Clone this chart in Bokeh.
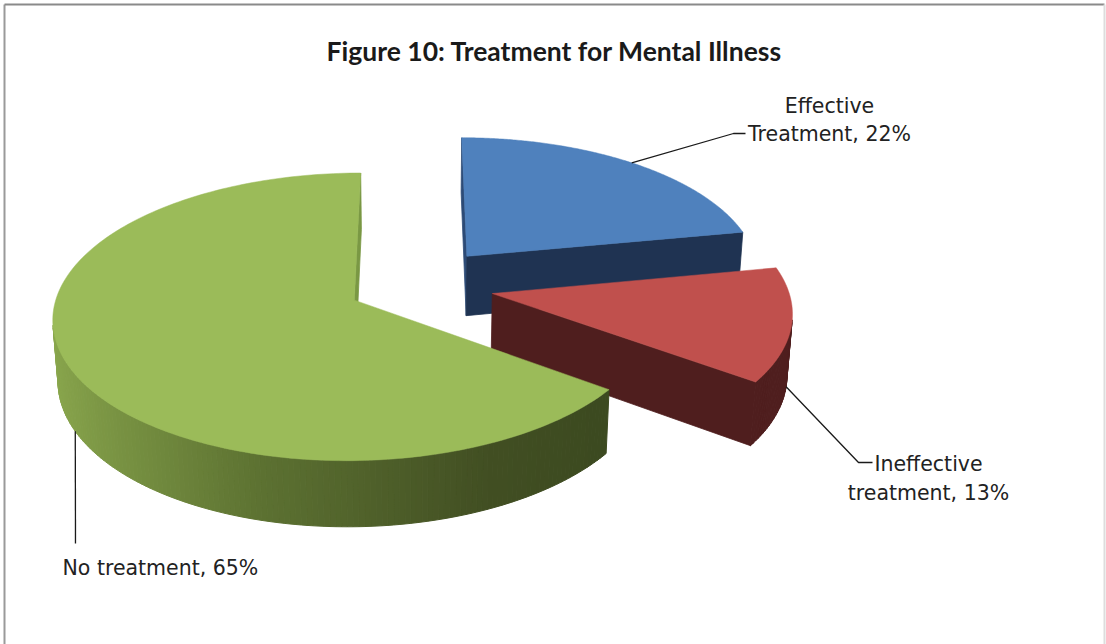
import numpy as np
from bokeh.plotting import figure
from bokeh.models import Range1d
from bokeh.embed import file_html
from bokeh.resources import INLINE
from bokeh.core.properties import value

# ---------------- data ----------------
title = "Figure 10: Treatment for Mental Illness"
categories = ["Effective\nTreatment", "Ineffective\ntreatment", "No treatment"]
values = [22, 13, 65]

# ---------------- styles ----------------
top_colors = ["#4f81bd", "#c0504d", "#9bbb59"]
side_colors = ["#1f3352", "#4f1e1e", "#3e4c21"]
radial_colors = [("#2d4b76", "#1f3352"), ("#4f1e1e", "#4f1e1e"), ("#3e4c21", "#7a9844")]
explode = [0.28, 0.265, 0.23]
# green side gradient (stops in sin(theta))
grad_pos = [-1.0, -0.966, -0.259, 0.423, 0.809, 1.0]
grad_rgb = [(140, 170, 78), (136, 165, 76), (93, 114, 50), (66, 79, 35), (60, 74, 32), (60, 74, 32)]

label_x = [829, 928, 62]
label_y = [[105, 133], [463, 492], [567]]
label_align = ["center", "center", "left"]
leader_pts = [[(733, 133), (745, 133)], [(858, 462), (872, 462)], [(75, 543)]]

# ---------------- projection ----------------
CX, CY = 415.0, 285.0
S = 295.0
ALPHA = np.radians(28)
PERSP = 0.13
H = 0.235
D = 1.0 / PERSP
sa, ca = np.sin(ALPHA), np.cos(ALPHA)
CAM = np.array([0.0, -D * ca, D * sa])


def proj(u, v, z):
    s = 1.0 / (1.0 + PERSP * (v * ca - z * sa))
    return CX + S * u * s, CY - S * (v * sa + z * ca) * s


def green_shade(th):
    sv = np.sin(th)
    r = np.interp(sv, grad_pos, [c[0] for c in grad_rgb])
    g = np.interp(sv, grad_pos, [c[1] for c in grad_rgb])
    b = np.interp(sv, grad_pos, [c[2] for c in grad_rgb])
    return "#%02x%02x%02x" % (int(r), int(g), int(b))


p = figure(width=1106, height=644, x_range=Range1d(0, 1106), y_range=Range1d(644, 0),
           output_backend="svg", toolbar_location=None, min_border=0,
           x_axis_type=None, y_axis_type=None)
p.grid.visible = False
p.outline_line_color = None
p.background_fill_color = "white"
p.border_fill_color = "white"

# frame
p.segment(x0=[4, 4, 1104], y0=[4, 4, 4], x1=[4, 1104, 1104], y1=[644, 4, 644],
          line_color=["#9a9a9a", "#8a8a8a", "#dddddd"], line_width=2)

total = float(sum(values))
fracs = np.array(values) / total
starts = np.concatenate([[0], np.cumsum(fracs)[:-1]]) * 2 * np.pi
ends = np.cumsum(fracs) * 2 * np.pi

anchors = []
for i in range(len(values)):
    th0, th1 = starts[i], ends[i]
    mid = 0.5 * (th0 + th1)
    e = explode[i]
    cu, cv = e * np.sin(mid), e * np.cos(mid)

    def rim(th, z):
        return proj(cu + np.sin(th), cv + np.cos(th), z)

    # curved outer face
    n = max(2, int(np.degrees(th1 - th0)) + 1)
    ths = np.linspace(th0, th1, n)
    xs, ys, cols = [], [], []
    for a, b in zip(ths[:-1], ths[1:]):
        m = 0.5 * (a + b)
        pu, pv = cu + np.sin(m), cv + np.cos(m)
        dot = np.sin(m) * (CAM[0] - pu) + np.cos(m) * (CAM[1] - pv)
        if dot <= 0:
            continue
        p1, p2, p3, p4 = rim(a, 0), rim(b, 0), rim(b, -H), rim(a, -H)
        xs.append([p1[0], p2[0], p3[0], p4[0]])
        ys.append([p1[1], p2[1], p3[1], p4[1]])
        cols.append(green_shade(m) if i == 2 else side_colors[i])
    if xs:
        p.patches(xs, ys, fill_color=cols, line_color=cols, line_width=1)

    # radial faces
    for th, nrm, col in [(th0, (-np.cos(th0), np.sin(th0)), radial_colors[i][0]),
                         (th1, (np.cos(th1), -np.sin(th1)), radial_colors[i][1])]:
        dot = nrm[0] * (CAM[0] - cu) + nrm[1] * (CAM[1] - cv)
        if dot <= 0:
            continue
        c0, c1 = proj(cu, cv, 0), proj(cu, cv, -H)
        r0, r1 = rim(th, 0), rim(th, -H)
        p.patch([c0[0], r0[0], r1[0], c1[0]], [c0[1], r0[1], r1[1], c1[1]],
                fill_color=col, line_color=col, line_width=0.8)

    # top face
    tt = np.linspace(th0, th1, 200)
    px, py = rim(tt, 0)
    c0 = proj(cu, cv, 0)
    p.patch(np.concatenate([[c0[0]], px]), np.concatenate([[c0[1]], py]),
            fill_color=top_colors[i], line_color=top_colors[i], line_width=0.5)

    # leader anchor on the slice
    if i == 0:
        anchors.append(rim(mid, 0))
    else:
        anchors.append(rim(mid, -H))

# title
p.text(x=[554], y=[50], text=[title], text_font=value("Lato"), text_font_style="bold",
       text_font_size="26.5px", text_align="center", text_baseline="alphabetic",
       text_color="#1a1a1a")

# labels and leaders
for i in range(len(values)):
    label = f"{categories[i]}, {values[i]}%"
    lines = label.split("\n")
    ax, ay = anchors[i]
    lx = [ax] + [q[0] for q in leader_pts[i]]
    ly = [ay] + [q[1] for q in leader_pts[i]]
    p.line(lx, ly, line_color="#1a1a1a", line_width=1.3)
    for j, ln in enumerate(lines):
        p.text(x=[label_x[i]], y=[label_y[i][j]], text=[ln], text_font=value("DejaVu Sans"),
               text_font_size="20.5px", text_align=label_align[i], text_baseline="alphabetic",
               text_color="#222222")

open("out.html", "w").write(file_html(p, INLINE))
